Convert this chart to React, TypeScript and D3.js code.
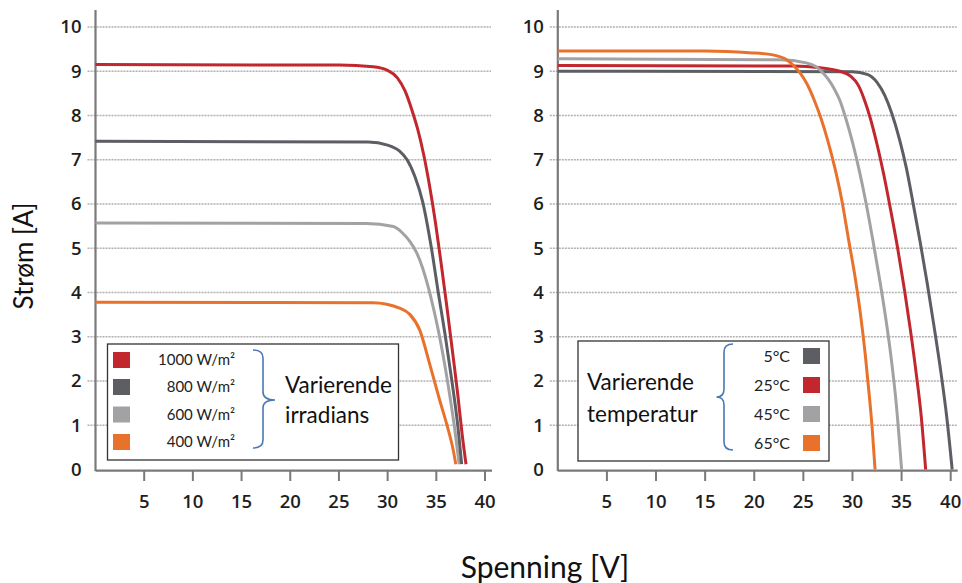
import React from 'react';
import * as d3 from 'd3';

// I–V curves of a PV module: current [A] vs voltage [V]
// Left panel: varying irradiance (25°C)
const irr1000: [number, number][] = [[0, 9.15], [25, 9.14], [28.5, 9.1], [30, 9.02], [31, 8.85], [31.8, 8.55], [32.5, 8.12], [33.1, 7.68], [33.7, 7.12], [34.3, 6.42], [34.9, 5.6], [35.5, 4.65], [36.1, 3.65], [36.7, 2.6], [37.2, 1.7], [37.65, 0.8], [38.05, 0.12]];
const irr800: [number, number][] = [[0, 7.42], [28, 7.4], [30, 7.33], [31.2, 7.2], [32, 7.0], [32.8, 6.62], [33.6, 6.05], [34.5, 5.0], [35.2, 4.0], [35.9, 3.05], [36.6, 2.0], [37.2, 1.0], [37.6, 0.12]];
const irr600: [number, number][] = [[0, 5.57], [27.8, 5.56], [30.6, 5.49], [31.5, 5.35], [32.3, 5.15], [33.0, 4.89], [33.6, 4.55], [34.2, 4.1], [34.7, 3.65], [35.2, 3.15], [35.8, 2.45], [36.4, 1.65], [36.9, 0.9], [37.35, 0.12]];
const irr400: [number, number][] = [[0, 3.78], [28.5, 3.77], [31.3, 3.64], [32.3, 3.5], [33.3, 3.15], [34.3, 2.4], [35.3, 1.6], [36.2, 0.92], [36.7, 0.48], [37.0, 0.12]];

// Right panel: varying cell temperature (1000 W/m²)
const temp5: [number, number][] = [[0, 9.0], [30, 8.99], [31.5, 8.93], [32.5, 8.75], [33.3, 8.45], [34.0, 8.05], [34.8, 7.45], [35.5, 6.8], [36.2, 5.98], [36.9, 5.13], [37.6, 4.22], [38.3, 3.24], [39.0, 2.2], [39.6, 1.18], [40.15, 0]];
const temp25: [number, number][] = [[0, 9.13], [24, 9.12], [26.7, 9.08], [28.7, 9.0], [29.8, 8.89], [30.6, 8.68], [31.3, 8.3], [31.8, 7.95], [32.5, 7.35], [33.2, 6.65], [33.9, 5.85], [34.6, 5.0], [35.3, 4.05], [35.9, 3.15], [36.5, 2.15], [37.0, 1.2], [37.45, 0]];
const temp45: [number, number][] = [[0, 9.28], [22.6, 9.26], [25.3, 9.19], [26.3, 9.1], [27.0, 8.96], [27.6, 8.8], [28.1, 8.62], [28.7, 8.35], [29.3, 7.95], [30.0, 7.4], [30.7, 6.75], [31.4, 6.0], [32.1, 5.15], [32.8, 4.25], [33.4, 3.4], [33.95, 2.5], [34.45, 1.5], [35.0, 0]];
const temp65: [number, number][] = [[0, 9.46], [15, 9.46], [19.5, 9.42], [21.9, 9.37], [23.3, 9.26], [24.0, 9.13], [24.7, 8.95], [25.4, 8.7], [26.1, 8.35], [26.8, 7.93], [27.5, 7.42], [28.2, 6.82], [28.9, 6.1], [29.6, 5.2], [30.3, 4.3], [30.85, 3.45], [31.3, 2.6], [31.7, 1.7], [32.0, 0.95], [32.3, 0]];

const yTicks = [0, 1, 2, 3, 4, 5, 6, 7, 8, 9, 10];
const xTicks = [5, 10, 15, 20, 25, 30, 35, 40];
const irradianceLabels = ['1000 W/m²', '800 W/m²', '600 W/m²', '400 W/m²'];
const temperatureLabels = ['5°C', '25°C', '45°C', '65°C'];

const RED = '#c1272d';
const DARK = '#5d5e63';
const LIGHT = '#a2a2a4';
const ORANGE = '#e8722c';

const TICK_FONT = '"Open Sans", sans-serif';
const TEXT_FONT = 'Lato, sans-serif';

const y = d3.scaleLinear().domain([0, 10]).range([469.5, 27]);

type Series = { data: [number, number][]; color: string };

function Panel({ x, series }: { x: d3.ScaleLinear<number, number>; series: Series[] }) {
  const x0 = x(0);
  const x40 = x(40);
  const line = d3
    .line<[number, number]>()
    .x((d) => x(d[0]))
    .y((d) => y(d[1]))
    .curve(d3.curveMonotoneX);
  return (
    <g>
      {yTicks.slice(1).map((t) => (
        <line key={'g' + t} x1={x0 - 8} x2={x40 + 6} y1={y(t)} y2={y(t)} stroke="#b0b0b0" strokeWidth={1.6} strokeDasharray="2 1" />
      ))}
      {yTicks.map((t) => (
        <text key={'yl' + t} x={x0 - 14} y={y(t)} dy="0.35em" textAnchor="end" fontFamily={TICK_FONT} fontWeight={600} fontSize={18.5} fill="#1e1e1e">
          {t}
        </text>
      ))}
      <line x1={x0} x2={x0} y1={10} y2={471} stroke="#7a7a7a" strokeWidth={2.2} />
      <line x1={x0} x2={x40 + 7} y1={470.7} y2={470.7} stroke="#7a7a7a" strokeWidth={2.2} />
      {xTicks.map((t) => (
        <g key={'xt' + t}>
          <line x1={x(t)} x2={x(t)} y1={470.7} y2={481} stroke="#7a7a7a" strokeWidth={2} />
          <text x={x(t)} y={508} textAnchor="middle" fontFamily={TICK_FONT} fontWeight={600} fontSize={18.5} fill="#1e1e1e">
            {t}
          </text>
        </g>
      ))}
      {series.map((s, i) => (
        <path key={'s' + i} d={line(s.data) || ''} fill="none" stroke={s.color} strokeWidth={3} />
      ))}
    </g>
  );
}

export default function App() {
  const xLeft = d3.scaleLinear().domain([0, 40]).range([95.5, 485]);
  const xRight = d3.scaleLinear().domain([0, 40]).range([557.8, 950.7]);

  const leftSeries: Series[] = [
    { data: irr400, color: ORANGE },
    { data: irr600, color: LIGHT },
    { data: irr800, color: DARK },
    { data: irr1000, color: RED },
  ];
  const rightSeries: Series[] = [
    { data: temp5, color: DARK },
    { data: temp25, color: RED },
    { data: temp45, color: LIGHT },
    { data: temp65, color: ORANGE },
  ];
  const irrColors = [RED, DARK, LIGHT, ORANGE];
  const tempColors = [DARK, RED, LIGHT, ORANGE];
  const rowY = [360, 387, 414.5, 442];
  const rowYRight = [356, 385, 414, 443];

  return (
    <svg width={962} height={583} style={{ position: 'absolute', left: 0, top: 0, background: '#fff' }}>
      <rect width={962} height={583} fill="#fff" />
      <Panel x={xLeft} series={leftSeries} />
      <Panel x={xRight} series={rightSeries} />

      {/* irradiance legend */}
      <rect x={107.5} y={344} width={291} height={116} fill="#fff" stroke="#333" strokeWidth={1.3} />
      {irradianceLabels.map((lab, i) => (
        <g key={lab}>
          <rect x={113} y={rowY[i] - 8} width={17} height={16} fill={irrColors[i]} />
          <text x={235} y={rowY[i] + 5} textAnchor="end" fontFamily={TEXT_FONT} fontSize={15} fill="#222">
            {lab}
          </text>
        </g>
      ))}
      <path d="M253 350 Q263 350 263 358 L263 392 Q263 400 275 400 Q263 400 263 408 L263 440 Q263 448 253 448" fill="none" stroke="#4a78b4" strokeWidth={1.6} />
      <text x={285} y={393} fontFamily={TEXT_FONT} fontSize={22.5} fill="#111">Varierende</text>
      <text x={285} y={423} fontFamily={TEXT_FONT} fontSize={22.5} fill="#111">irradians</text>

      {/* temperature legend */}
      <rect x={578} y={341} width={251} height={120} fill="#fff" stroke="#333" strokeWidth={1.3} />
      <text x={587} y={390} fontFamily={TEXT_FONT} fontSize={22.5} fill="#111">Varierende</text>
      <text x={587} y={421.5} fontFamily={TEXT_FONT} fontSize={22.5} fill="#111">temperatur</text>
      <path d="M733 344 Q724 344 724 352 L724 389 Q724 397 716.5 397 Q724 397 724 405 L724 442 Q724 450 733 450" fill="none" stroke="#4a78b4" strokeWidth={1.6} />
      {temperatureLabels.map((lab, i) => (
        <g key={lab}>
          <rect x={803} y={rowYRight[i] - 8} width={17} height={16} fill={tempColors[i]} />
          <text x={790} y={rowYRight[i] + 5.5} textAnchor="end" fontFamily={TEXT_FONT} fontSize={16} fill="#222">
            {lab}
          </text>
        </g>
      ))}

      {/* axis titles */}
      <text transform="translate(33,256) rotate(-90)" textAnchor="middle" fontFamily={TEXT_FONT} fontSize={26} fill="#111">
        Strøm [A]
      </text>
      <text x={545} y={578} textAnchor="middle" fontFamily={TEXT_FONT} fontSize={30} fill="#111">
        Spenning [V]
      </text>
    </svg>
  );
}
